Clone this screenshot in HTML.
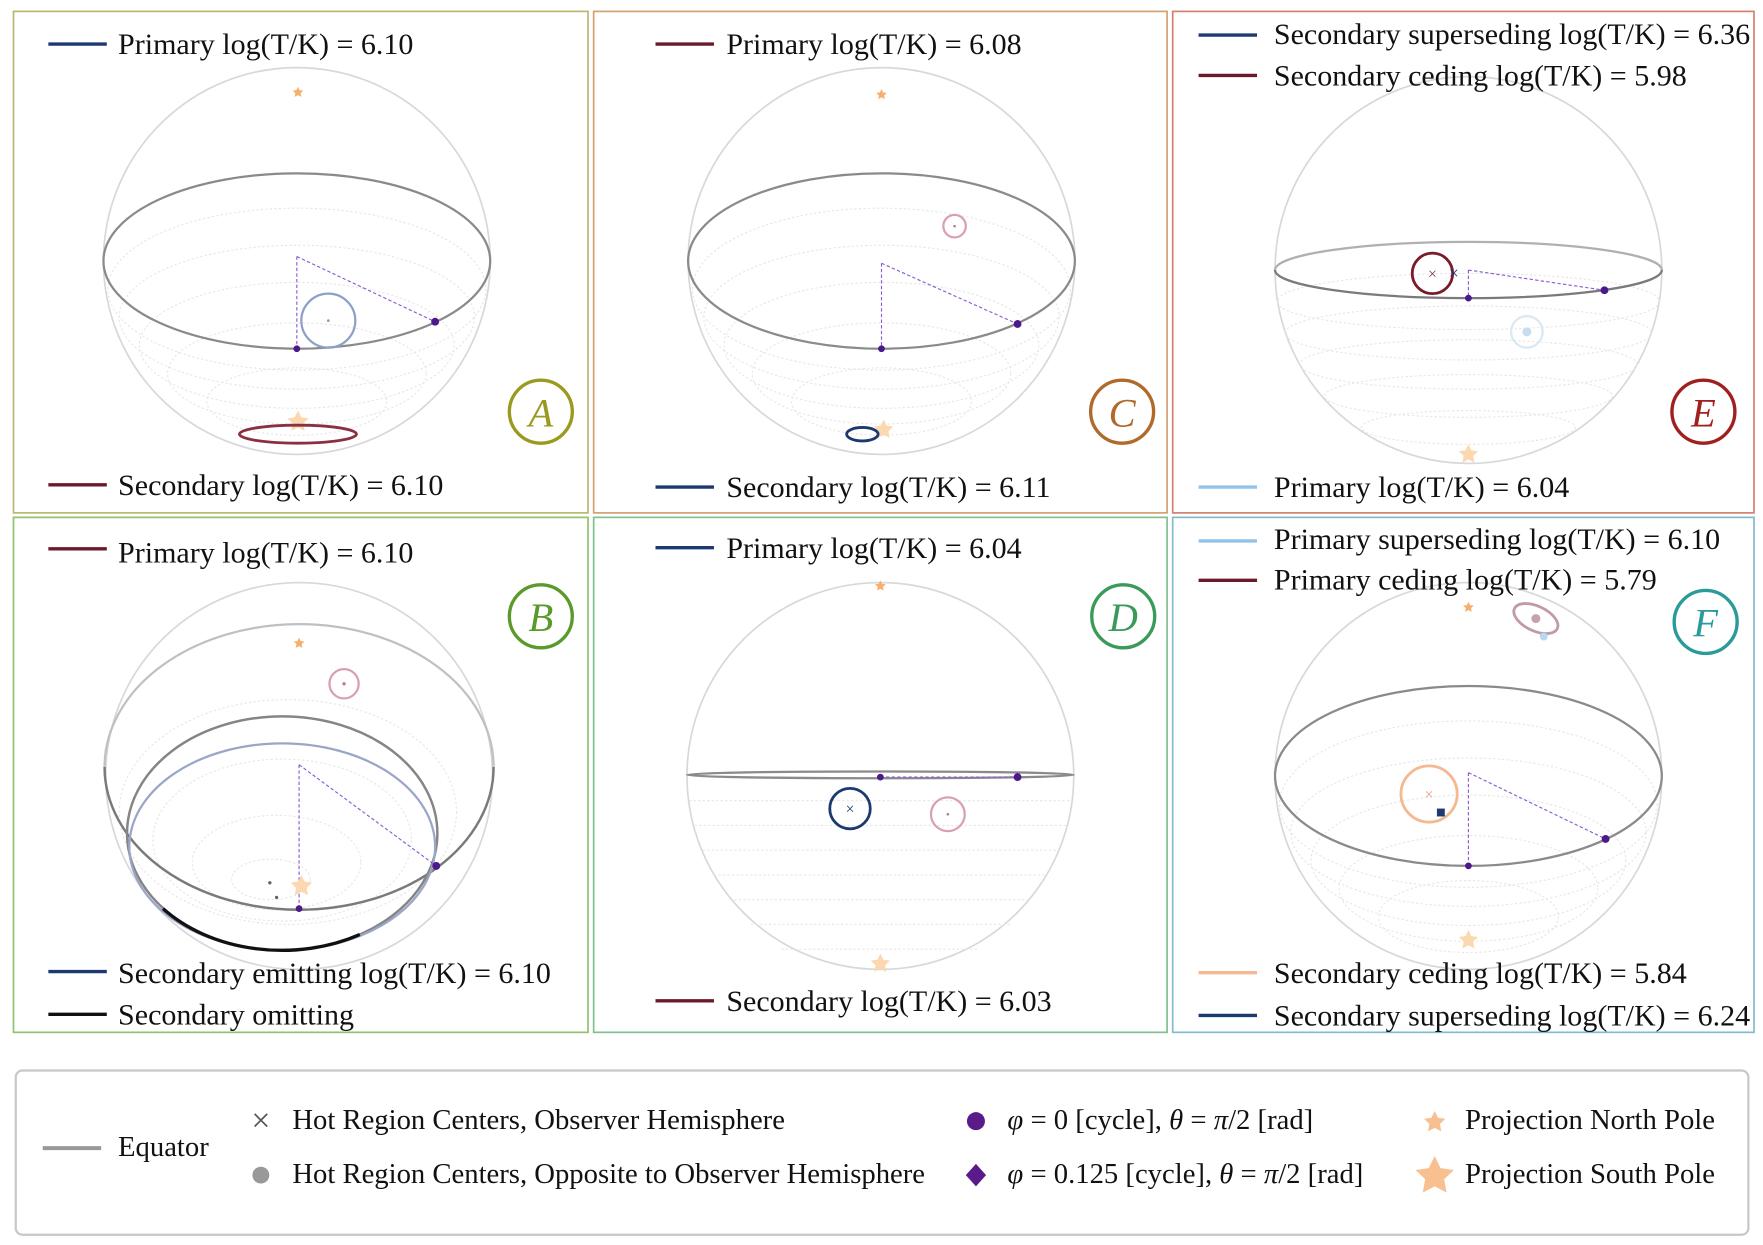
<!DOCTYPE html>
<html><head><meta charset="utf-8"><style>
html,body{margin:0;padding:0;background:#fff;}
svg{display:block;}
text{font-family:"Liberation Serif",serif;fill:#111;}
</style></head><body>
<svg width="1763" height="1245" viewBox="0 0 1568 1107" xmlns="http://www.w3.org/2000/svg">
<defs>
<g id="sph">
 <circle cx="0" cy="0" r="172" fill="none" stroke="#d8d8d8" stroke-width="1.5"/>
</g>
<path id="star" d="M0,-10 L2.9,-4 L9.5,-3.1 L4.7,1.5 L5.9,8.1 L0,5 L-5.9,8.1 L-4.7,1.5 L-9.5,-3.1 L-2.9,-4Z"/>
</defs>
<rect x="0" y="0" width="1568" height="1107" fill="#fff"/>
<!-- panel borders -->
<rect x="12" y="10" width="511" height="446" fill="none" stroke="#b8b870" stroke-width="1.5"/>
<rect x="12" y="460" width="511" height="458" fill="none" stroke="#8fc46a" stroke-width="1.5"/>
<rect x="528" y="10" width="510" height="446" fill="none" stroke="#d4a070" stroke-width="1.5"/>
<rect x="528" y="460" width="510" height="458" fill="none" stroke="#80c090" stroke-width="1.5"/>
<rect x="1043" y="10" width="517" height="446" fill="none" stroke="#d4806e" stroke-width="1.5"/>
<rect x="1043" y="460" width="517" height="458" fill="none" stroke="#80bccc" stroke-width="1.5"/>

<g font-size="26.7">
<!-- Panel A -->
<g transform="translate(264,232)">
 <use href="#sph"/>
 <g fill="none" stroke="#e6e6e6" stroke-width="1" stroke-dasharray="2,2">
  <ellipse cx="0" cy="25" rx="168" ry="72"/><ellipse cx="0" cy="50" rx="158" ry="64"/><ellipse cx="0" cy="75" rx="140" ry="56"/><ellipse cx="0" cy="100" rx="115" ry="45"/><ellipse cx="0" cy="125" rx="80" ry="30"/>
 </g>
 <ellipse cx="0" cy="0" rx="172" ry="78" fill="none" stroke="#8a8a8a" stroke-width="2"/>
 <path d="M0,-4 L0,78 M0,-4 L123,54" stroke="#8a5ad0" stroke-width="1" stroke-dasharray="3,2" fill="none"/>
 <circle cx="0" cy="78" r="3" fill="#4a1a8a"/><circle cx="123" cy="54" r="3.5" fill="#4a1a8a"/>
 <circle cx="28" cy="53" r="24" fill="none" stroke="#8fa0c8" stroke-width="2"/>
 <circle cx="28" cy="53" r="1.2" fill="#999"/>
 <use href="#star" transform="translate(1,-150) scale(0.5)" fill="#f5b070"/>
 <use href="#star" transform="translate(1,143) scale(1)" fill="#fbd8b0"/>
 <ellipse cx="1" cy="154" rx="52" ry="8" fill="none" stroke="#8a3040" stroke-width="2.5"/>
</g>
<line x1="43" y1="39" x2="95" y2="39" stroke="#1d3a70" stroke-width="3"/>
<text x="105" y="48">Primary log(T/K) = 6.10</text>
<line x1="43" y1="431" x2="95" y2="431" stroke="#6a1a2a" stroke-width="3"/>
<text x="105" y="440">Secondary log(T/K) = 6.10</text>
<circle cx="481" cy="366" r="28" fill="none" stroke="#9a9a20" stroke-width="3"/>
<text x="481" y="379" font-size="36" font-style="italic" text-anchor="middle" style="fill:#9a9a20">A</text>

<!-- Panel C -->
<g transform="translate(784,232)">
 <use href="#sph"/>
 <g fill="none" stroke="#e6e6e6" stroke-width="1" stroke-dasharray="2,2">
  <ellipse cx="0" cy="25" rx="168" ry="72"/><ellipse cx="0" cy="50" rx="158" ry="64"/><ellipse cx="0" cy="75" rx="140" ry="56"/><ellipse cx="0" cy="100" rx="115" ry="45"/><ellipse cx="0" cy="125" rx="80" ry="30"/>
 </g>
 <ellipse cx="0" cy="0" rx="172" ry="78" fill="none" stroke="#8a8a8a" stroke-width="2"/>
 <path d="M0,2 L0,78 M0,2 L121,56" stroke="#8a5ad0" stroke-width="1" stroke-dasharray="3,2" fill="none"/>
 <circle cx="0" cy="78" r="3" fill="#4a1a8a"/><circle cx="121" cy="56" r="3.5" fill="#4a1a8a"/>
 <circle cx="65" cy="-31" r="10" fill="none" stroke="#d8a0b0" stroke-width="2"/>
 <circle cx="65" cy="-31" r="1.2" fill="#b08090"/>
 <use href="#star" transform="translate(0,-148) scale(0.5)" fill="#f5b070"/>
 <use href="#star" transform="translate(2,150) scale(0.9)" fill="#fbd8b0"/>
 <ellipse cx="-17" cy="154" rx="14" ry="6" fill="none" stroke="#1d3a70" stroke-width="2.5"/>
</g>
<line x1="583" y1="39" x2="635" y2="39" stroke="#6a1a2a" stroke-width="3"/>
<text x="646" y="48">Primary log(T/K) = 6.08</text>
<line x1="583" y1="433" x2="635" y2="433" stroke="#1d3a70" stroke-width="3"/>
<text x="646" y="442">Secondary log(T/K) = 6.11</text>
<circle cx="998" cy="366" r="28" fill="none" stroke="#b06a2a" stroke-width="3"/>
<text x="998" y="379" font-size="36" font-style="italic" text-anchor="middle" style="fill:#b06a2a">C</text>

<!-- Panel E -->
<g transform="translate(1306,240)">
 <use href="#sph"/>
 <g fill="none" stroke="#e6e6e6" stroke-width="1" stroke-dasharray="2,2">
  <ellipse cx="0" cy="28" rx="170" ry="25"/><ellipse cx="0" cy="56" rx="163" ry="24"/><ellipse cx="0" cy="84" rx="150" ry="22"/><ellipse cx="0" cy="112" rx="128" ry="19"/><ellipse cx="0" cy="140" rx="95" ry="15"/>
 </g>
 <path d="M-172,0 A172,25 0 0 1 172,0" fill="none" stroke="#b0b0b0" stroke-width="2"/>
 <path d="M-172,0 A172,25 0 0 0 172,0" fill="none" stroke="#7a7a7a" stroke-width="2"/>
 <path d="M0,0 L0,25 M0,0 L121,18" stroke="#8a5ad0" stroke-width="1" stroke-dasharray="3,2" fill="none"/>
 <circle cx="0" cy="25" r="3" fill="#4a1a8a"/><circle cx="121" cy="18" r="3.5" fill="#4a1a8a"/>
 <circle cx="-32" cy="3" r="18" fill="none" stroke="#7a1a2a" stroke-width="2.5"/>
 <text x="-32" y="8" font-size="14" text-anchor="middle" style="fill:#7a3a4a">×</text>
 <text x="-13" y="8" font-size="16" text-anchor="middle" style="fill:#1d3a70">×</text>
 <circle cx="52" cy="55" r="14" fill="none" stroke="#d8e8f5" stroke-width="2"/>
 <circle cx="52" cy="55" r="4" fill="#c8dcf0"/>
 <use href="#star" transform="translate(0,164) scale(0.9)" fill="#fbd8b0"/>
</g>
<line x1="1066" y1="31" x2="1118" y2="31" stroke="#1d3a70" stroke-width="3"/>
<text x="1133" y="39">Secondary superseding log(T/K) = 6.36</text>
<line x1="1066" y1="67" x2="1118" y2="67" stroke="#6a1a2a" stroke-width="3"/>
<text x="1133" y="76">Secondary ceding log(T/K) = 5.98</text>
<line x1="1066" y1="433" x2="1118" y2="433" stroke="#90c4ec" stroke-width="3"/>
<text x="1133" y="442">Primary log(T/K) = 6.04</text>
<circle cx="1515" cy="366" r="28" fill="none" stroke="#a02020" stroke-width="3"/>
<text x="1515" y="379" font-size="36" font-style="italic" text-anchor="middle" style="fill:#a02020">E</text>

<!-- Panel B -->
<g transform="translate(266,682)">
 <circle cx="0" cy="8" r="172" fill="none" stroke="#d8d8d8" stroke-width="1.5"/>
 <g fill="none" stroke="#e6e6e6" stroke-width="1" stroke-dasharray="2,2">
  <ellipse cx="-10" cy="40" rx="150" ry="100"/><ellipse cx="-15" cy="65" rx="115" ry="72"/><ellipse cx="-20" cy="85" rx="75" ry="42"/><ellipse cx="-25" cy="100" rx="35" ry="18"/>
 </g>
 <path d="M-173,0 A173,127 0 0 1 173,0" fill="none" stroke="#c0c0c0" stroke-width="2"/>
 <path d="M-173,0 A173,127 0 0 0 173,0" fill="none" stroke="#7a7a7a" stroke-width="2.2"/>
 <ellipse cx="-15" cy="59" rx="138" ry="104" fill="none" stroke="#858585" stroke-width="2.2"/>
 <ellipse cx="-15" cy="71" rx="136" ry="92" fill="none" stroke="#9aa6c8" stroke-width="2"/>
 <path d="M-121,126 A138,104 0 0 0 54,149" fill="none" stroke="#111" stroke-width="3"/>
 <path d="M0,-2 L0,126 M0,-2 L122,88" stroke="#8a5ad0" stroke-width="1" stroke-dasharray="3,2" fill="none"/>
 <circle cx="0" cy="126" r="3" fill="#4a1a8a"/><circle cx="122" cy="88" r="3.5" fill="#4a1a8a"/>
 <circle cx="40" cy="-74" r="13" fill="none" stroke="#d8a0b0" stroke-width="2"/>
 <circle cx="40" cy="-74" r="1.5" fill="#b08090"/>
 <circle cx="-26" cy="103" r="1.5" fill="#666"/><circle cx="-20" cy="116" r="1.5" fill="#666"/>
 <use href="#star" transform="translate(0,-110) scale(0.5)" fill="#f5b070"/>
 <use href="#star" transform="translate(2,106) scale(1)" fill="#fbd8b0"/>
</g>
<line x1="43" y1="488" x2="95" y2="488" stroke="#6a1a2a" stroke-width="3"/>
<text x="105" y="500">Primary log(T/K) = 6.10</text>
<line x1="43" y1="864" x2="95" y2="864" stroke="#1d3a70" stroke-width="3"/>
<text x="105" y="874">Secondary emitting log(T/K) = 6.10</text>
<line x1="43" y1="902" x2="95" y2="902" stroke="#111" stroke-width="3"/>
<text x="105" y="911">Secondary omitting</text>
<circle cx="481" cy="548" r="28" fill="none" stroke="#5a9a2a" stroke-width="3"/>
<text x="481" y="561" font-size="36" font-style="italic" text-anchor="middle" style="fill:#5a9a2a">B</text>

<!-- Panel D -->
<g transform="translate(783,690)">
 <use href="#sph"/>
 <g fill="none" stroke="#e6e6e6" stroke-width="1" stroke-dasharray="2,2">
  <path d="M-170,22 H170 M-165,44 H165 M-158,66 H158 M-148,88 H148 M-134,110 H134 M-115,132 H115 M-88,154 H88"/>
 </g>
 <ellipse cx="0" cy="-1" rx="172" ry="3" fill="none" stroke="#8a8a8a" stroke-width="2"/>
 <path d="M0,1 L122,1" stroke="#8a5ad0" stroke-width="1" stroke-dasharray="3,2" fill="none"/>
 <circle cx="0" cy="1" r="3" fill="#4a1a8a"/><circle cx="122" cy="1" r="3.5" fill="#4a1a8a"/>
 <circle cx="-27" cy="29" r="18" fill="none" stroke="#1d3a70" stroke-width="2.5"/>
 <text x="-27" y="34" font-size="14" text-anchor="middle" style="fill:#1d3a70">×</text>
 <circle cx="60" cy="34" r="15" fill="none" stroke="#d8a0b0" stroke-width="2"/>
 <circle cx="60" cy="34" r="1.2" fill="#b08090"/>
 <use href="#star" transform="translate(0,-169) scale(0.5)" fill="#f5b070"/>
 <use href="#star" transform="translate(0,167) scale(0.9)" fill="#fbd8b0"/>
</g>
<line x1="583" y1="487" x2="635" y2="487" stroke="#1d3a70" stroke-width="3"/>
<text x="646" y="496">Primary log(T/K) = 6.04</text>
<line x1="583" y1="890" x2="635" y2="890" stroke="#6a1a2a" stroke-width="3"/>
<text x="646" y="899">Secondary log(T/K) = 6.03</text>
<circle cx="999" cy="548" r="28" fill="none" stroke="#3a9a5a" stroke-width="3"/>
<text x="999" y="561" font-size="36" font-style="italic" text-anchor="middle" style="fill:#3a9a5a">D</text>

<!-- Panel F -->
<g transform="translate(1306,690)">
 <use href="#sph"/>
 <g fill="none" stroke="#e6e6e6" stroke-width="1" stroke-dasharray="2,2">
  <ellipse cx="0" cy="25" rx="168" ry="74"/><ellipse cx="0" cy="50" rx="158" ry="66"/><ellipse cx="0" cy="75" rx="140" ry="58"/><ellipse cx="0" cy="100" rx="115" ry="47"/><ellipse cx="0" cy="125" rx="80" ry="32"/>
 </g>
 <ellipse cx="0" cy="0" rx="172" ry="80" fill="none" stroke="#8a8a8a" stroke-width="2"/>
 <path d="M0,-3 L0,80 M0,-3 L122,56" stroke="#8a5ad0" stroke-width="1" stroke-dasharray="3,2" fill="none"/>
 <circle cx="0" cy="80" r="3" fill="#4a1a8a"/><circle cx="122" cy="56" r="3.5" fill="#4a1a8a"/>
 <circle cx="-35" cy="16" r="25" fill="none" stroke="#f5b890" stroke-width="2.5"/>
 <text x="-35" y="21" font-size="14" text-anchor="middle" style="fill:#f0a080">×</text>
 <rect x="-28" y="29" width="7" height="7" fill="#1d3a70"/>
 <ellipse cx="60" cy="-140" rx="21" ry="11" fill="none" stroke="#c09aa8" stroke-width="2.5" transform="rotate(25 60 -140)"/>
 <circle cx="60" cy="-140" r="4" fill="#c8a0b0"/>
 <circle cx="67" cy="-124" r="3.5" fill="#b8d8f0"/>
 <use href="#star" transform="translate(0,-150) scale(0.5)" fill="#f5b070"/>
 <use href="#star" transform="translate(0,146) scale(0.9)" fill="#fbd8b0"/>
</g>
<line x1="1066" y1="481" x2="1118" y2="481" stroke="#90c4ec" stroke-width="3"/>
<text x="1133" y="488">Primary superseding log(T/K) = 6.10</text>
<line x1="1066" y1="516" x2="1118" y2="516" stroke="#6a1a2a" stroke-width="3"/>
<text x="1133" y="524">Primary ceding log(T/K) = 5.79</text>
<line x1="1066" y1="865" x2="1118" y2="865" stroke="#f5b890" stroke-width="3"/>
<text x="1133" y="874">Secondary ceding log(T/K) = 5.84</text>
<line x1="1066" y1="903" x2="1118" y2="903" stroke="#1d3a70" stroke-width="3"/>
<text x="1133" y="912">Secondary superseding log(T/K) = 6.24</text>
<circle cx="1517" cy="553" r="28" fill="none" stroke="#2a9a9a" stroke-width="3"/>
<text x="1517" y="566" font-size="36" font-style="italic" text-anchor="middle" style="fill:#2a9a9a">F</text>
</g>

<!-- Legend -->
<rect x="14" y="952" width="1541" height="146" rx="6" fill="#fff" stroke="#c8c8c8" stroke-width="2"/>
<g font-size="25.5">
<line x1="38" y1="1021" x2="90" y2="1021" stroke="#999" stroke-width="3.5"/>
<text x="105" y="1028">Equator</text>
<text x="232" y="1006" font-size="30" text-anchor="middle" style="fill:#555">×</text>
<text x="260" y="1004">Hot Region Centers, Observer Hemisphere</text>
<circle cx="232" cy="1045" r="7.5" fill="#999"/>
<text x="260" y="1052">Hot Region Centers, Opposite to Observer Hemisphere</text>
<circle cx="868" cy="997" r="8" fill="#5a1a8a"/>
<text x="896" y="1004" font-style="italic">φ <tspan font-style="normal">= 0 [cycle], </tspan>θ<tspan font-style="normal"> = </tspan>π<tspan font-style="normal">/2 [rad]</tspan></text>
<path d="M868,1035 L877,1045 L868,1055 L859,1045Z" fill="#5a1a8a"/>
<text x="896" y="1052" font-style="italic">φ <tspan font-style="normal">= 0.125 [cycle], </tspan>θ<tspan font-style="normal"> = </tspan>π<tspan font-style="normal">/2 [rad]</tspan></text>
<use href="#star" transform="translate(1276,998) scale(1)" fill="#f8c090"/>
<text x="1303" y="1004">Projection North Pole</text>
<use href="#star" transform="translate(1276,1046) scale(1.8)" fill="#f8c090"/>
<text x="1303" y="1052">Projection South Pole</text>
</g>
</svg>
</body></html>
